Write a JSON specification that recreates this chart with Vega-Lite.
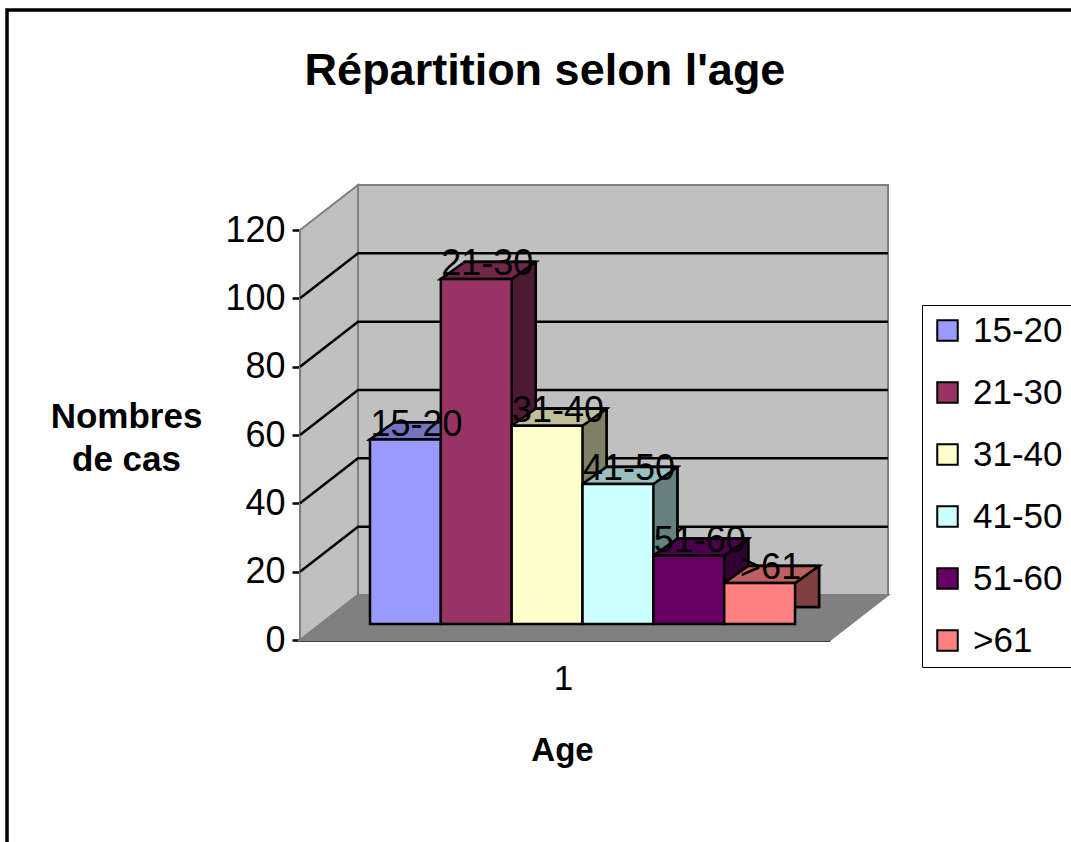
{
  "$schema": "https://vega.github.io/schema/vega-lite/v6.json",
  "width": 530,
  "height": 410,
  "autosize": {"type": "none"},
  "padding": {"left": 300, "top": 230, "right": 241, "bottom": 202},
  "background": "white",
  "title": {"text": "Répartition selon l'age", "font": "Liberation Sans", "fontSize": 45, "fontWeight": "bold", "color": "black", "anchor": "middle", "frame": "group", "dx": -20, "offset": 0, "dy": 127, "baseline": "alphabetic"},
  "data": {"values": [
    {"age": "15-20", "n": 54},
    {"age": "21-30", "n": 101},
    {"age": "31-40", "n": 58},
    {"age": "41-50", "n": 41},
    {"age": "51-60", "n": 20},
    {"age": ">61", "n": 12}
  ]},
  "layer": [
    {
      "data": {"values": [{"part": "frame"}]},
      "mark": {"type": "point", "shape": "M-398.4,205L-398.4,-630L670,-630", "size": 4, "filled": false, "stroke": "black", "strokeWidth": 3.5, "opacity": 1},
      "encoding": {
        "x": {"datum": "15-20", "type": "nominal", "scale": {"type": "band", "domain": ["15-20", "21-30", "31-40", "41-50", "51-60", ">61"], "paddingInner": 0, "paddingOuter": 0.7408, "align": 0.6669}},
        "y": {"datum": 0, "type": "quantitative", "scale": {"domain": [0, 120], "nice": false}}
      }
    },
    {
      "data": {"values": [{"part": "left wall"}]},
      "mark": {"type": "point", "shape": "M-105.4,0L-105.4,-410L-47.4,-455L-47.4,-45Z", "size": 4, "filled": true, "fill": "#c0c0c0", "stroke": "#808080", "strokeWidth": 2, "opacity": 1},
      "encoding": {
        "x": {"datum": "15-20", "type": "nominal"},
        "y": {"datum": 0, "type": "quantitative"}
      }
    },
    {
      "data": {"values": [{"part": "back wall"}]},
      "mark": {"type": "point", "shape": "M-47.4,-45L-47.4,-455L482.6,-455L482.6,-45Z", "size": 4, "filled": true, "fill": "#c0c0c0", "stroke": "#808080", "strokeWidth": 2, "opacity": 1},
      "encoding": {
        "x": {"datum": "15-20", "type": "nominal"},
        "y": {"datum": 0, "type": "quantitative"}
      }
    },
    {
      "data": {"values": [{"part": "floor"}]},
      "mark": {"type": "point", "shape": "M-105.4,0L424.6,0L482.6,-45L-47.4,-45Z", "size": 4, "filled": true, "fill": "#808080", "stroke": "#808080", "strokeWidth": 2, "opacity": 1},
      "encoding": {
        "x": {"datum": "15-20", "type": "nominal"},
        "y": {"datum": 0, "type": "quantitative"}
      }
    },
    {
      "data": {"values": [{"level": 20}, {"level": 40}, {"level": 60}, {"level": 80}, {"level": 100}]},
      "mark": {"type": "point", "shape": "M-105.4,0L-47.4,-45L482.6,-45", "size": 4, "filled": false, "stroke": "black", "strokeWidth": 2.5, "opacity": 1},
      "encoding": {
        "x": {"datum": "15-20", "type": "nominal"},
        "y": {"field": "level", "type": "quantitative"}
      }
    },
    {
      "mark": {"type": "bar", "fill": "black", "stroke": "black", "strokeWidth": 2.5, "xOffset": 24, "x2Offset": 24, "yOffset": -33, "y2Offset": -16, "opacity": 1},
      "encoding": {
        "x": {"field": "age", "type": "nominal"},
        "y": {"field": "n", "type": "quantitative"}
      }
    },
    {
      "mark": {"type": "bar", "stroke": "black", "strokeWidth": 2.5, "xOffset": 24, "x2Offset": 24, "yOffset": -33, "y2Offset": -16, "fillOpacity": 0.5, "strokeOpacity": 1},
      "encoding": {
        "x": {"field": "age", "type": "nominal"},
        "y": {"field": "n", "type": "quantitative"},
        "color": {"field": "age", "type": "nominal"}
      }
    },
    {
      "mark": {"type": "point", "shape": "M-35.4,0L35.4,0L59.4,-17L-11.4,-17Z", "size": 4, "filled": true, "fill": "black", "stroke": "black", "strokeWidth": 2.5, "yOffset": -16, "opacity": 1},
      "encoding": {
        "x": {"field": "age", "type": "nominal"},
        "y": {"field": "n", "type": "quantitative"}
      }
    },
    {
      "mark": {"type": "point", "shape": "M-35.4,0L35.4,0L59.4,-17L-11.4,-17Z", "size": 4, "filled": true, "stroke": "black", "strokeWidth": 2.5, "yOffset": -16, "opacity": 1, "fillOpacity": 0.75, "strokeOpacity": 1},
      "encoding": {
        "x": {"field": "age", "type": "nominal"},
        "y": {"field": "n", "type": "quantitative"},
        "color": {"field": "age", "type": "nominal"}
      }
    },
    {
      "mark": {"type": "bar", "stroke": "black", "strokeWidth": 2.5, "yOffset": -16, "y2Offset": -16, "opacity": 1},
      "encoding": {
        "x": {"field": "age", "type": "nominal", "title": "Age",
          "axis": {"labelAngle": 0, "ticks": false, "grid": false, "labelExpr": "datum.label == '31-40' ? '1' : ''", "labelOffset": 26, "domainColor": "black", "domainWidth": 2.5, "labelFont": "Liberation Sans", "labelFontSize": 35, "labelColor": "black", "labelPadding": 38, "titleFont": "Liberation Sans", "titleFontSize": 33, "titleFontWeight": "bold", "titleColor": "black", "titleBaseline": "alphabetic", "titleY": 120, "titleX": 262}},
        "y": {"field": "n", "type": "quantitative", "title": ["Nombres", "de cas"],
          "axis": {"values": [0, 20, 40, 60, 80, 100, 120], "grid": false, "domainColor": "black", "domainWidth": 2.5, "tickColor": "black", "tickWidth": 2.5, "tickSize": 8, "labelFont": "Liberation Sans", "labelFontSize": 36, "labelColor": "black", "labelPadding": 7, "titleFont": "Liberation Sans", "titleFontSize": 35, "titleFontWeight": "bold", "titleColor": "black", "titleAngle": 0, "titleAlign": "center", "titleBaseline": "alphabetic", "titleX": -174, "titleY": 197, "titleLineHeight": 43}},
        "color": {"field": "age", "type": "nominal",
          "scale": {"domain": ["15-20", "21-30", "31-40", "41-50", "51-60", ">61"], "range": ["#9999ff", "#993366", "#ffffcc", "#ccffff", "#660066", "#ff8080"]},
          "legend": {"title": null, "orient": "none", "legendX": 622, "legendY": 75, "symbolType": "square", "symbolSize": 420, "symbolStrokeColor": "black", "symbolStrokeWidth": 2, "symbolOpacity": 1, "labelFont": "Liberation Sans", "labelFontSize": 35, "labelColor": "black", "labelOffset": 8, "rowPadding": 26, "padding": 8, "strokeColor": "black"}}
      }
    },
    {
      "mark": {"type": "text", "font": "Liberation Sans", "fontSize": 36, "color": "black", "align": "center", "baseline": "alphabetic", "dx": 11, "yOffset": -20},
      "encoding": {
        "x": {"field": "age", "type": "nominal"},
        "y": {"field": "n", "type": "quantitative"},
        "text": {"field": "age"}
      }
    }
  ],
  "config": {"view": {"stroke": null}, "font": "Liberation Sans"}
}
